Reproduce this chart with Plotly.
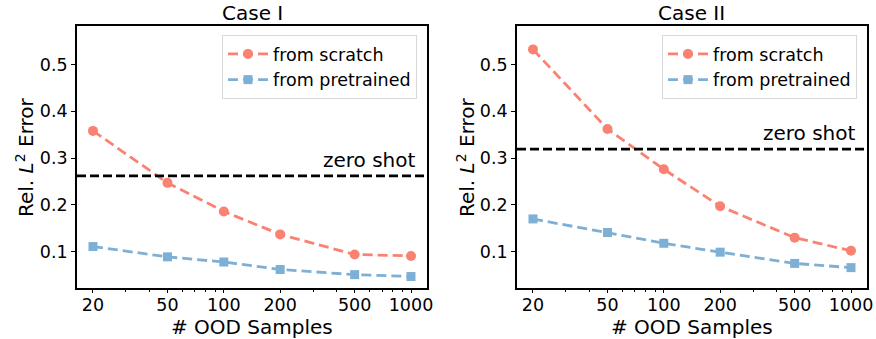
import plotly.graph_objects as go

samples = [20, 50, 100, 200, 500, 1000]
tick_labels = ["20", "50", "100", "200", "500", "1000"]

case1_scratch = [0.358, 0.247, 0.186, 0.137, 0.094, 0.091]
case1_pretrained = [0.111, 0.089, 0.078, 0.062, 0.051, 0.047]
case1_zero_shot = 0.262

case2_scratch = [0.532, 0.362, 0.276, 0.197, 0.130, 0.102]
case2_pretrained = [0.170, 0.141, 0.118, 0.099, 0.075, 0.066]
case2_zero_shot = 0.319

titles = ["Case I", "Case II"]
y_ticks = [0.1, 0.2, 0.3, 0.4, 0.5]
y_tick_labels = ["0.1", "0.2", "0.3", "0.4", "0.5"]
minor_vals = [30, 40, 60, 70, 80, 90, 300, 400, 600, 700, 800, 900]

SALMON = "#F98272"
BLUE = "#7EB0D6"
FONT = "DejaVu Sans"
W, H = 876, 339

fig = go.Figure()

panels = [
    (case1_scratch, case1_pretrained, case1_zero_shot, "x", "y"),
    (case2_scratch, case2_pretrained, case2_zero_shot, "x2", "y2"),
]
x_domains = [[77 / W, 427 / W], [517 / W, 867 / W]]
y_domain = [1 - 288 / H, 1 - 26 / H]

for i, (scr, pre, zs, xa, ya) in enumerate(panels):
    lg = "legend" if i == 0 else "legend2"
    fig.add_trace(go.Scatter(
        x=samples, y=scr, xaxis=xa, yaxis=ya, mode="lines+markers",
        name="from scratch", legend=lg,
        line=dict(color=SALMON, width=2.8, dash="10px,5px"),
        marker=dict(symbol="circle", size=10, color=SALMON),
    ))
    fig.add_trace(go.Scatter(
        x=samples, y=pre, xaxis=xa, yaxis=ya, mode="lines+markers",
        name="from pretrained", legend=lg,
        line=dict(color=BLUE, width=2.8, dash="10px,5px"),
        marker=dict(symbol="square", size=9, color=BLUE),
    ))
    fig.add_shape(type="line", xref=f"{xa} domain", yref=ya, x0=0, x1=1, y0=zs, y1=zs,
                  line=dict(color="black", width=2.8, dash="9px,4px"), layer="above")
    fig.add_annotation(xref=f"{xa} domain", yref=ya, x=0.973, y=zs, text="zero shot",
                       showarrow=False, xanchor="right", yanchor="bottom", yshift=2,
                       font=dict(family=FONT, size=20, color="black"))
    xc = sum(x_domains[i]) / 2
    fig.add_annotation(xref="paper", yref="paper", x=xc, y=1 - 13 / H,
                       text=titles[i], showarrow=False, xanchor="center", yanchor="middle",
                       font=dict(family=FONT, size=20, color="black"))
    fig.add_annotation(xref="paper", yref="paper", x=xc, y=1 - 327 / H,
                       text="# OOD Samples", showarrow=False, xanchor="center", yanchor="middle",
                       font=dict(family=FONT, size=20, color="black"))
    fig.add_annotation(xref="paper", yref="paper", x=(25 if i == 0 else 466) / W,
                       y=1 - 157 / H, textangle=-90,
                       text="Rel. <i>L</i><sup>2</sup> Error", showarrow=False,
                       xanchor="center", yanchor="middle",
                       font=dict(family=FONT, size=20, color="black"))

axis_common = dict(showline=True, linecolor="black", linewidth=1.6, mirror=True,
                   ticks="outside", ticklen=4, tickwidth=1, tickcolor="black",
                   showgrid=False, zeroline=False, automargin=False,
                   tickfont=dict(family=FONT, size=17.5, color="black"))

for i in range(2):
    xkey = "xaxis" if i == 0 else "xaxis2"
    ykey = "yaxis" if i == 0 else "yaxis2"
    fig.update_layout(**{
        xkey: dict(axis_common, type="log", domain=x_domains[i], anchor="y" if i == 0 else "y2",
                   range=[1.2156, 3.0855], tickmode="array", tickvals=samples, ticktext=tick_labels,
                   ticklen=3.5, ticklabelstandoff=-3,
                   minor=dict(tickmode="array", tickvals=minor_vals, ticks="outside", ticklen=2.5,
                              tickwidth=0.8, tickcolor="black")),
        ykey: dict(axis_common, domain=y_domain, anchor="x" if i == 0 else "x2",
                   range=[0.0225, 0.582], tickmode="array", tickvals=y_ticks,
                   ticktext=y_tick_labels),
    })

legend_common = dict(bgcolor="rgba(255,255,255,0.8)", bordercolor="#d9d9d9", borderwidth=1,
                     font=dict(family=FONT, size=17.5, color="black"), xanchor="right", yanchor="top",
                     tracegroupgap=0, itemwidth=40)
fig.update_layout(
    legend=dict(legend_common, x=417 / W, y=1 - 35 / H),
    legend2=dict(legend_common, x=857 / W, y=1 - 35 / H),
    width=W, height=H, margin=dict(l=0, r=0, t=0, b=0),
    plot_bgcolor="white", paper_bgcolor="white", showlegend=True,
)

fig.write_html("out.html", config={"displayModeBar": False},
               post_script="document.body.style.margin='0';")
